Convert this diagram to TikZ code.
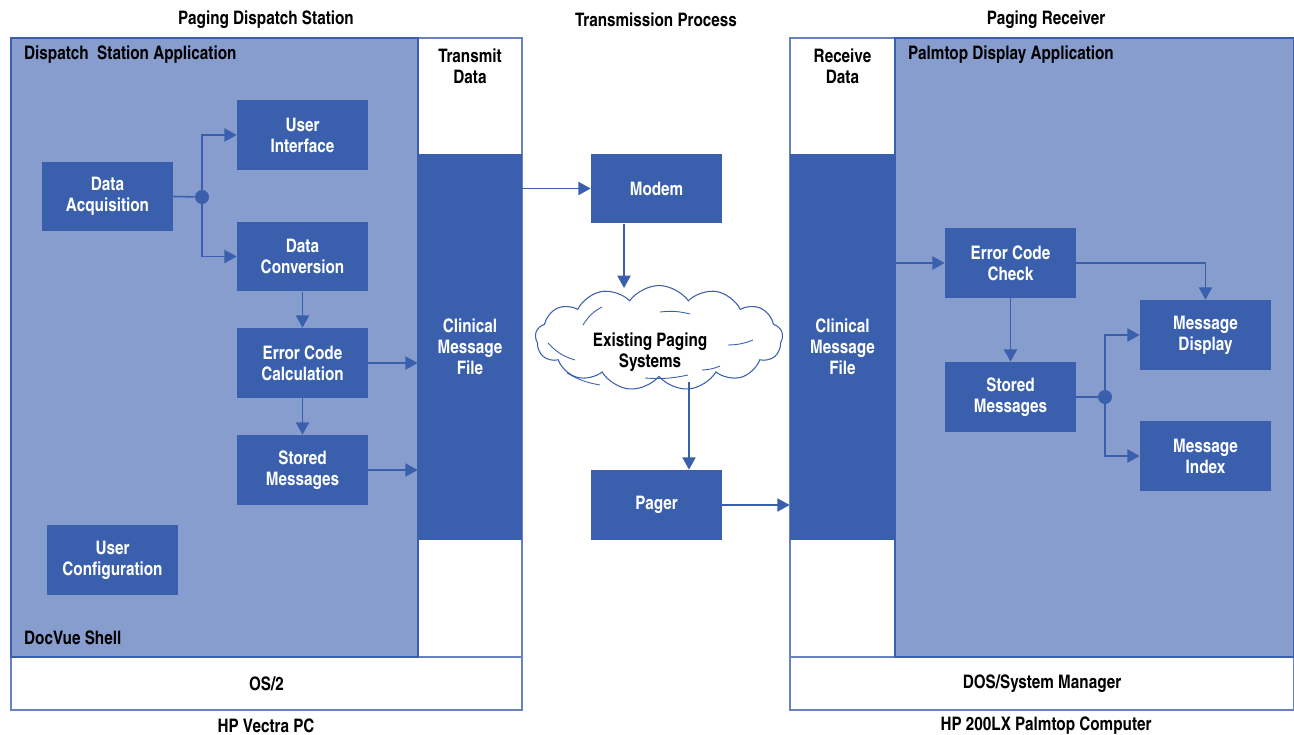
\documentclass[tikz,border=0pt]{standalone}
\usepackage{fontspec}
\setmainfont{texgyreheroscn-bold.otf}
\usetikzlibrary{positioning, arrows.meta, shapes.symbols, calc}
\definecolor{boxblue}{RGB}{58,96,173}
\definecolor{panelblue}{RGB}{134,157,206}
\definecolor{edgeblue}{RGB}{104,130,192}

\begin{document}
\begin{tikzpicture}[x=0.02cm, y=-0.02cm,
  font=\fontsize{10.6}{12}\selectfont,
  block/.style={fill=boxblue, text=white, minimum width=2.62cm, minimum height=1.4cm, align=center, inner sep=0pt},
  filecol/.style={fill=boxblue, text=white, minimum width=2.08cm, minimum height=7.72cm, align=center, inner sep=0pt},
  panel/.style={fill=panelblue, draw=boxblue, line width=1pt},
  column/.style={fill=white, draw=edgeblue, line width=0.7pt, align=center, inner sep=0pt},
  title/.style={align=center},
  arrow/.style={-{Triangle[length=7pt,width=7.5pt]}, draw=boxblue, line width=0.9pt},
  link/.style={draw=boxblue, line width=0.9pt},
  sketch/.style={draw=boxblue, line width=0.5pt},
  junction/.style={circle, fill=boxblue, minimum size=0.28cm, inner sep=0pt}
]
  \useasboundingbox (0,0) rectangle (1294,734);

  % titles
  \node[title] (ttl) at (266,20)  {Paging Dispatch Station};
  \node[title] (ttm) at (656,20)  {Transmission Process};
  \node[title] (ttr) at (1046,20) {Paging Receiver};
  \node[title] (pcl) at (266,726)  {HP Vectra PC};
  \node[title] (pcr) at (1046,726) {HP 200LX Palmtop Computer};

  % dispatch station side
  \node[column, minimum width=10.22cm, minimum height=1.06cm] (os2) at (266.5,683.5) {OS/2};
  \draw[column] (418,38) rectangle (522,657);
  \draw[panel] (11,38) rectangle (418,657);
  \node[anchor=west] (sapp) at (18,55) {Dispatch~~Station Application};
  \node[anchor=west] (shell) at (18,638) {DocVue Shell};
  \node[align=center] (tdata) at (470,66) {Transmit\\Data};
  \node[filecol] (sfile) at (470,347) {Clinical\\Message\\File};

  \node[block] (acq)    at (107.5,196.5) {Data\\Acquisition};
  \node[block] (ui)     at (302.5,135)   {User\\Interface};
  \node[block] (conv)   at (302.5,256.5) {Data\\Conversion};
  \node[block] (ecc)    at (302.5,363)   {Error Code\\Calculation};
  \node[block] (stored) at (302.5,470)   {Stored\\Messages};
  \node[block] (ucfg)   at (112.5,560)   {User\\Configuration};
  \node[junction] (split) at (202,197) {};

  \draw[link]  (acq.east) -- (split);
  \draw[arrow] (split) |- (ui.west);
  \draw[arrow] (split) |- (conv.west);
  \draw[arrow] (conv) -- (ecc);
  \draw[arrow] (ecc) -- (stored);
  \draw[arrow] (ecc.east) -- (ecc.east -| sfile.west);
  \draw[arrow] (stored.east) -- (stored.east -| sfile.west);

  % transmission
  \node[block] (modem) at (656.5,188.5) {Modem};
  \node[block] (pager) at (656.5,505)   {Pager};
  \node[cloud, cloud puffs=13, cloud puff arc=110, aspect=2.5, draw=boxblue, fill=white, line width=0.6pt,
        minimum width=4.95cm, minimum height=2.1cm] (net) at (659,338) {};
  \node[align=center] (netlbl) at (650,352) {Existing Paging\\Systems};
  \draw[sketch] (583,325) to[bend left=15] (602,307);
  \draw[sketch] (660,312) to[bend left=10] (690,314);
  \draw[sketch] (728,345) to[bend right=10] (753,340);
  \draw[sketch] (548,343) to[bend right=15] (575,360);
  \draw[sketch] (567,373) to[bend right=10] (600,385);
  \draw[sketch] (645,378) to[bend right=8] (688,375);
  \draw[sketch] (702,370) to[bend right=10] (720,366);
  \coordinate (netin)  at (624,288);
  \coordinate (netout) at (689,382);

  \draw[arrow] (sfile.east |- modem.west) -- (modem.west);
  \draw[arrow] (modem.south -| netin) -- (netin);
  \draw[arrow] (netout) -- (netout |- pager.north);

  % receiver side
  \node[column, minimum width=10.08cm, minimum height=1.06cm] (dos) at (1042,683.5) {DOS/System Manager};
  \draw[column] (790,38) rectangle (895,657);
  \draw[panel] (895,38) rectangle (1294,657);
  \node[anchor=west] (papp) at (902,55) {Palmtop Display Application};
  \node[align=center] (rdata) at (842.5,66) {Receive\\Data};
  \node[filecol, minimum width=2.1cm] (rfile) at (842.5,347) {Clinical\\Message\\File};

  \node[block] (check)   at (1010.5,263) {Error Code\\Check};
  \node[block] (rstored) at (1010.5,397) {Stored\\Messages};
  \node[block] (mdisp)   at (1205.5,335) {Message\\Display};
  \node[block] (mindex)  at (1205.5,456) {Message\\Index};
  \node[junction] (rsplit) at (1105,397) {};

  \draw[arrow] (pager.east) -- (pager.east -| rfile.west);
  \draw[arrow] (rfile.east |- check.west) -- (check.west);
  \draw[arrow] (check.east) -| (mdisp.north);
  \draw[arrow] (check) -- (rstored);
  \draw[link]  (rstored.east) -- (rsplit);
  \draw[arrow] (rsplit) |- (mdisp.west);
  \draw[arrow] (rsplit) |- (mindex.west);
\end{tikzpicture}
\end{document}
